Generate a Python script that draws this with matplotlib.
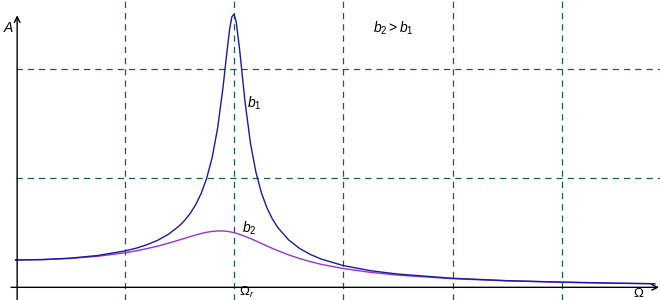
import numpy as np
import matplotlib
matplotlib.use("Agg")
import matplotlib.pyplot as plt

plt.rcParams['font.family'] = ['Liberation Sans', 'DejaVu Sans']
plt.rcParams['mathtext.fontset'] = 'custom'
plt.rcParams['mathtext.rm'] = 'Liberation Sans'
plt.rcParams['mathtext.it'] = 'Liberation Sans:italic'

# frequency (grid units, resonance near 2) and amplitudes
omega = [0, 0.25, 0.5, 0.75, 1.0, 1.1, 1.2, 1.3, 1.4, 1.5, 1.55, 1.6, 1.65, 1.7, 1.75,
         1.8, 1.85, 1.9, 1.93, 1.96, 1.98, 2.0, 2.02, 2.05, 2.1, 2.15, 2.2, 2.25,
         2.3, 2.35, 2.4, 2.5, 2.6, 2.7, 2.8, 3.0, 3.25, 3.5, 4.0, 4.5, 5.0, 5.5, 5.85]
amp_b1 = [0.250, 0.254, 0.267, 0.291, 0.333, 0.357, 0.389, 0.430, 0.486, 0.563, 0.615,
          0.678, 0.758, 0.861, 0.999, 1.189, 1.458, 1.836, 2.110, 2.365, 2.476, 2.500,
          2.428, 2.187, 1.704, 1.322, 1.055, 0.867, 0.730, 0.628, 0.548, 0.434, 0.356,
          0.300, 0.258, 0.199, 0.152, 0.121, 0.083, 0.061, 0.048, 0.038, 0.033]
amp_b2 = [0.250, 0.254, 0.264, 0.284, 0.316, 0.333, 0.354, 0.377, 0.404, 0.434, 0.449,
          0.465, 0.479, 0.493, 0.504, 0.512, 0.516, 0.516, 0.513, 0.509, 0.505, 0.500,
          0.495, 0.485, 0.467, 0.447, 0.425, 0.402, 0.379, 0.357, 0.336, 0.297, 0.264,
          0.235, 0.210, 0.172, 0.137, 0.112, 0.079, 0.059, 0.046, 0.037, 0.033]

grid_x = [1, 2, 3, 4, 5]
grid_y = [1, 2]

fig = plt.figure(figsize=(6.6, 3.0), dpi=100)
ax = fig.add_axes([0, 0, 1, 1])
ax.set_xlim(-0.142, 5.899)
ax.set_ylim(-0.116, 2.630)
ax.axis('off')

grid_col = '#1e5c4e'
for gx in grid_x:
    ax.axvline(gx, color=grid_col, lw=0.9, ls=(0, (5, 4)), zorder=1)
for gy in grid_y:
    ax.plot([0, 5.899], [gy, gy], color=grid_col, lw=0.9, ls=(0, (5, 4)), zorder=1)

# axes with open arrows
arr = dict(arrowstyle='->', lw=1.0, color='black', shrinkA=0, shrinkB=0,
           mutation_scale=10)
ax.annotate('', xy=(0.015, 2.49), xytext=(0.015, -0.12), arrowprops=arr, zorder=3)
ax.annotate('', xy=(5.89, 0), xytext=(-0.041, 0), arrowprops=arr, zorder=3)

ax.plot(omega, amp_b2, color='#9b30d9', lw=1.0, zorder=2)
ax.plot(omega, amp_b1, color='#1a1a9e', lw=1.0, zorder=2)

fs = 10
ax.text(-0.06, 2.37, '$A$', fontsize=fs, ha='center', va='center')
ax.text(3.455, 2.373, '$b_2 > b_1$', fontsize=fs, ha='center', va='center')
ax.text(2.183, 1.686, '$b_1$', fontsize=fs, ha='center', va='center')
ax.text(2.137, 0.543, '$b_2$', fontsize=fs, ha='center', va='center')
ax.text(2.119, -0.075, r'$\Omega_r$', fontsize=9.5, ha='center', va='baseline')
ax.text(5.707, -0.085, r'$\Omega$', fontsize=9.5, ha='center', va='baseline')

fig.savefig('out.png', dpi=100)
